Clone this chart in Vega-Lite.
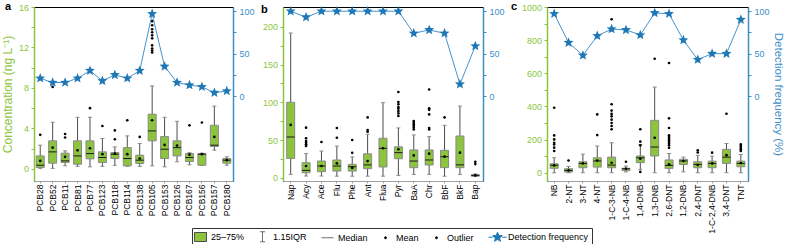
{
  "$schema": "https://vega.github.io/schema/vega-lite/v6.json",
  "padding": {"left": 0, "top": 0, "right": 0, "bottom": 0},
  "spacing": 5,
  "config": {
    "font": "Liberation Sans",
    "view": {"stroke": "black", "strokeWidth": 1},
    "axis": {"grid": false, "labelFont": "Liberation Sans", "titleFont": "Liberation Sans", "titleFontWeight": "normal"},
    "axisX": {"labelAngle": -90, "labelFontSize": 8.5, "tickSize": 2, "labelPadding": 1, "domainColor": "#a0a0a0", "tickColor": "#a0a0a0", "labelColor": "black"},
    "axisLeft": {"labelColor": "#8cc43e", "tickColor": "#8cc43e", "domainColor": "#8cc43e", "titleColor": "#8cc43e", "domainWidth": 1.5, "tickSize": 3, "labelPadding": 2.5, "labelFontSize": 9, "titleFontSize": 12, "titlePadding": 4},
    "axisRight": {"labelColor": "#3d8fca", "tickColor": "#3d8fca", "domainColor": "#3d8fca", "titleColor": "#3d8fca", "domainWidth": 1.5, "tickSize": 3, "labelPadding": 3, "labelFontSize": 9, "titleFontSize": 11.5, "titlePadding": 3}
  },
  "datasets": {
    "a": [
      {"c": "PCB28", "lo": 0.05, "q1": 0.13, "med": 0.36, "q3": 1.28, "hi": 2.34, "mean": 0.79, "df": 21},
      {"c": "PCB52", "lo": 0.05, "q1": 0.56, "med": 1.68, "q3": 2.77, "hi": 4.6, "mean": 2.1, "df": 16},
      {"c": "PCB11", "lo": 0.3, "q1": 0.63, "med": 0.79, "q3": 1.55, "hi": 1.78, "mean": 1.19, "df": 16},
      {"c": "PCB81", "lo": 0.25, "q1": 0.46, "med": 1.28, "q3": 2.77, "hi": 5.1, "mean": 1.83, "df": 21},
      {"c": "PCB77", "lo": 0.2, "q1": 0.99, "med": 1.51, "q3": 2.77, "hi": 5.1, "mean": 2.04, "df": 30},
      {"c": "PCB123", "lo": 0.25, "q1": 0.63, "med": 1.12, "q3": 1.68, "hi": 3.0, "mean": 1.45, "df": 18},
      {"c": "PCB118", "lo": 0.35, "q1": 1.02, "med": 1.45, "q3": 1.61, "hi": 2.17, "mean": 1.51, "df": 25},
      {"c": "PCB114", "lo": 0.25, "q1": 0.3, "med": 1.02, "q3": 2.1, "hi": 3.26, "mean": 1.45, "df": 21},
      {"c": "PCB138", "lo": 0.25, "q1": 0.53, "med": 0.86, "q3": 1.35, "hi": 2.5, "mean": 1.02, "df": 30},
      {"c": "PCB105", "lo": 0.3, "q1": 2.77, "med": 3.75, "q3": 5.4, "hi": 8.2, "mean": 4.81, "df": 97},
      {"c": "PCB153", "lo": 0.2, "q1": 1.02, "med": 1.94, "q3": 3.19, "hi": 5.1, "mean": 2.37, "df": 35},
      {"c": "PCB126", "lo": 0.7, "q1": 1.28, "med": 2.1, "q3": 2.77, "hi": 4.7, "mean": 2.3, "df": 16},
      {"c": "PCB167", "lo": 0.4, "q1": 0.73, "med": 1.12, "q3": 1.51, "hi": 1.6, "mean": 1.4, "df": 13},
      {"c": "PCB156", "lo": 0.35, "q1": 0.36, "med": 1.45, "q3": 1.51, "hi": 1.55, "mean": 1.45, "df": 11},
      {"c": "PCB157", "lo": 1.84, "q1": 2.21, "med": 2.34, "q3": 4.31, "hi": 6.2, "mean": 3.16, "df": 4},
      {"c": "PCB180", "lo": 0.36, "q1": 0.56, "med": 0.86, "q3": 1.02, "hi": 1.19, "mean": 0.86, "df": 6}
    ],
    "ao": [
      {"c": "PCB28", "v": 3.36}, {"c": "PCB52", "v": 8.1}, {"c": "PCB11", "v": 3.45}, {"c": "PCB11", "v": 3.1},
      {"c": "PCB77", "v": 6.0}, {"c": "PCB123", "v": 4.24}, {"c": "PCB118", "v": 3.8}, {"c": "PCB118", "v": 2.93},
      {"c": "PCB114", "v": 4.8}, {"c": "PCB138", "v": 3.16},
      {"c": "PCB105", "v": 14.6}, {"c": "PCB105", "v": 14.2}, {"c": "PCB105", "v": 13.8}, {"c": "PCB105", "v": 13.5},
      {"c": "PCB105", "v": 13.2}, {"c": "PCB105", "v": 12.9}, {"c": "PCB105", "v": 12.2}, {"c": "PCB105", "v": 11.9},
      {"c": "PCB105", "v": 11.7}, {"c": "PCB105", "v": 11.5},
      {"c": "PCB167", "v": 4.3}, {"c": "PCB156", "v": 4.58}
    ],
    "b": [
      {"c": "Nap", "lo": 4.4, "q1": 25.6, "med": 54, "q3": 100, "hi": 192, "mean": 70, "df": 100},
      {"c": "Acy", "lo": 2.2, "q1": 6.6, "med": 9.7, "q3": 19.9, "hi": 32, "mean": 15.5, "df": 93},
      {"c": "Ace", "lo": 2.2, "q1": 8, "med": 15.5, "q3": 22.1, "hi": 35.4, "mean": 15.5, "df": 100},
      {"c": "Flu", "lo": 2, "q1": 8.8, "med": 15.5, "q3": 23.5, "hi": 42, "mean": 19, "df": 100},
      {"c": "Phe", "lo": 2, "q1": 8.8, "med": 14.6, "q3": 17.7, "hi": 27.5, "mean": 13, "df": 100},
      {"c": "Ant", "lo": 2, "q1": 11.9, "med": 17, "q3": 31.7, "hi": 57.6, "mean": 22, "df": 100},
      {"c": "Flua", "lo": 2, "q1": 14.2, "med": 39, "q3": 52.3, "hi": 99.5, "mean": 39, "df": 100},
      {"c": "Pyr", "lo": 3, "q1": 25.2, "med": 33.2, "q3": 41, "hi": 66, "mean": 37.6, "df": 100},
      {"c": "BaA", "lo": 4.4, "q1": 13.3, "med": 22.1, "q3": 36.8, "hi": 56.7, "mean": 29.6, "df": 74},
      {"c": "Chr", "lo": 4.4, "q1": 16.8, "med": 23.5, "q3": 36.8, "hi": 54.4, "mean": 31.9, "df": 78},
      {"c": "BbF", "lo": 2, "q1": 13.3, "med": 27.9, "q3": 36.3, "hi": 69.5, "mean": 27.9, "df": 74},
      {"c": "BkF", "lo": 4.4, "q1": 13.3, "med": 17, "q3": 55.3, "hi": 95, "mean": 33.2, "df": 14},
      {"c": "Bap", "lo": 1.5, "q1": 2, "med": 3, "q3": 4, "hi": 5, "mean": 3, "df": 59}
    ],
    "bo": [
      {"c": "Acy", "v": 66.4}, {"c": "Acy", "v": 52.3}, {"c": "Acy", "v": 48.7}, {"c": "Acy", "v": 46.5}, {"c": "Acy", "v": 44.3}, {"c": "Acy", "v": 42.1},
      {"c": "Ace", "v": 47.4},
      {"c": "Flu", "v": 66}, {"c": "Flu", "v": 53},
      {"c": "Phe", "v": 50}, {"c": "Phe", "v": 33},
      {"c": "Ant", "v": 80}, {"c": "Ant", "v": 63.3}, {"c": "Ant", "v": 61},
      {"c": "Pyr", "v": 113.7}, {"c": "Pyr", "v": 100.5}, {"c": "Pyr", "v": 97.4}, {"c": "Pyr", "v": 93.8}, {"c": "Pyr", "v": 91.6}, {"c": "Pyr", "v": 88.5}, {"c": "Pyr", "v": 85.5}, {"c": "Pyr", "v": 82},
      {"c": "BaA", "v": 75.2}, {"c": "BaA", "v": 73}, {"c": "BaA", "v": 70.8}, {"c": "BaA", "v": 68.6}, {"c": "BaA", "v": 66.4}, {"c": "BaA", "v": 64},
      {"c": "Chr", "v": 117}, {"c": "Chr", "v": 92}, {"c": "Chr", "v": 90}, {"c": "Chr", "v": 84}, {"c": "Chr", "v": 66}, {"c": "Chr", "v": 64},
      {"c": "BbF", "v": 80},
      {"c": "Bap", "v": 21}, {"c": "Bap", "v": 18}
    ],
    "c": [
      {"c": "NB", "lo": 0, "q1": 26.5, "med": 44.5, "q3": 54, "hi": 90, "mean": 44, "df": 97},
      {"c": "2-NT", "lo": 0, "q1": 4, "med": 14, "q3": 24, "hi": 38, "mean": 14, "df": 63},
      {"c": "3-NT", "lo": 0, "q1": 30, "med": 56, "q3": 66, "hi": 112, "mean": 56, "df": 48},
      {"c": "4-NT", "lo": 0, "q1": 34, "med": 71, "q3": 90, "hi": 161, "mean": 74, "df": 71},
      {"c": "1-C-3-NB", "lo": 0, "q1": 30, "med": 46, "q3": 94, "hi": 181, "mean": 60, "df": 79},
      {"c": "1-C-4-NB", "lo": 5, "q1": 13, "med": 24, "q3": 27, "hi": 40, "mean": 24, "df": 78},
      {"c": "1,4-DNB", "lo": 20, "q1": 61, "med": 90, "q3": 101, "hi": 171, "mean": 84, "df": 72},
      {"c": "1,3-DNB", "lo": 0, "q1": 101, "med": 155, "q3": 316, "hi": 517, "mean": 211, "df": 98},
      {"c": "2,6-DNT", "lo": 0, "q1": 26, "med": 44, "q3": 77, "hi": 116, "mean": 50, "df": 97},
      {"c": "1,2-DNB", "lo": 5, "q1": 50, "med": 71, "q3": 81, "hi": 94, "mean": 71, "df": 66},
      {"c": "2,4-DNT", "lo": 0, "q1": 30, "med": 50, "q3": 66, "hi": 105, "mean": 47, "df": 43},
      {"c": "1-C-2,4-DNB", "lo": 0, "q1": 30, "med": 56, "q3": 70, "hi": 100, "mean": 56, "df": 50},
      {"c": "3,4-DNT", "lo": 0, "q1": 56, "med": 94, "q3": 141, "hi": 176, "mean": 106, "df": 50},
      {"c": "TNT", "lo": 0, "q1": 36, "med": 56, "q3": 70, "hi": 110, "mean": 58, "df": 90}
    ],
    "co": [
      {"c": "NB", "v": 392}, {"c": "NB", "v": 225}, {"c": "NB", "v": 201}, {"c": "NB", "v": 181}, {"c": "NB", "v": 171}, {"c": "NB", "v": 151}, {"c": "NB", "v": 131},
      {"c": "2-NT", "v": 74},
      {"c": "4-NT", "v": 352}, {"c": "4-NT", "v": 227},
      {"c": "1-C-3-NB", "v": 926}, {"c": "1-C-3-NB", "v": 413}, {"c": "1-C-3-NB", "v": 375}, {"c": "1-C-3-NB", "v": 355}, {"c": "1-C-3-NB", "v": 340}, {"c": "1-C-3-NB", "v": 320}, {"c": "1-C-3-NB", "v": 300}, {"c": "1-C-3-NB", "v": 282}, {"c": "1-C-3-NB", "v": 262},
      {"c": "1-C-4-NB", "v": 66},
      {"c": "1,4-DNB", "v": 262}, {"c": "1,4-DNB", "v": 188}, {"c": "1,4-DNB", "v": 165}, {"c": "1,4-DNB", "v": 5},
      {"c": "1,3-DNB", "v": 688},
      {"c": "2,6-DNT", "v": 662}, {"c": "2,6-DNT", "v": 328}, {"c": "2,6-DNT", "v": 270}, {"c": "2,6-DNT", "v": 225}, {"c": "2,6-DNT", "v": 215}, {"c": "2,6-DNT", "v": 205}, {"c": "2,6-DNT", "v": 195}, {"c": "2,6-DNT", "v": 185}, {"c": "2,6-DNT", "v": 175}, {"c": "2,6-DNT", "v": 165}, {"c": "2,6-DNT", "v": 150},
      {"c": "2,4-DNT", "v": 135}, {"c": "2,4-DNT", "v": 122},
      {"c": "1-C-2,4-DNB", "v": 121},
      {"c": "3,4-DNT", "v": 356},
      {"c": "TNT", "v": 171}, {"c": "TNT", "v": 161}, {"c": "TNT", "v": 151}, {"c": "TNT", "v": 141}, {"c": "TNT", "v": 131}
    ]
  },
  "hconcat": [
    {
      "width": 199, "height": 174,
      "title": {"text": "a", "anchor": "start", "frame": "group", "dx": -29, "offset": -18, "baseline": "alphabetic", "fontSize": 11, "fontWeight": "bold", "color": "black"},
      "encoding": {"x": {"field": "c", "type": "nominal", "title": null, "scale": {"type": "band", "domain": ["PCB28","PCB52","PCB11","PCB81","PCB77","PCB123","PCB118","PCB114","PCB138","PCB105","PCB153","PCB126","PCB167","PCB156","PCB157","PCB180"], "paddingInner": 0, "paddingOuter": 0}}},
      "layer": [
        {"layer": [
          {"data": {"name": "a"}, "mark": {"type": "rule", "color": "#4d4d4d", "strokeWidth": 1}, "encoding": {"y": {"field": "lo", "type": "quantitative", "scale": {"domain": [-1.2, 16], "nice": false, "zero": false}, "title": "Concentration (ng L⁻¹)", "axis": {"values": [0,2,4,6,8,10,12,14,16], "labelExpr": "datum.value % 4 === 0 ? datum.label : ''"}}, "y2": {"field": "hi"}}},
          {"data": {"name": "a"}, "mark": {"type": "tick", "size": 4, "thickness": 1, "color": "#8a8a8a", "opacity": 1}, "encoding": {"y": {"field": "lo", "type": "quantitative", "scale": {"domain": [-1.2, 16], "nice": false, "zero": false}, "title": "Concentration (ng L⁻¹)", "axis": {"values": [0,2,4,6,8,10,12,14,16], "labelExpr": "datum.value % 4 === 0 ? datum.label : ''"}}}},
          {"data": {"name": "a"}, "mark": {"type": "tick", "size": 4, "thickness": 1, "color": "#8a8a8a", "opacity": 1}, "encoding": {"y": {"field": "hi", "type": "quantitative", "scale": {"domain": [-1.2, 16], "nice": false, "zero": false}, "title": "Concentration (ng L⁻¹)", "axis": {"values": [0,2,4,6,8,10,12,14,16], "labelExpr": "datum.value % 4 === 0 ? datum.label : ''"}}}},
          {"data": {"name": "a"}, "mark": {"type": "bar", "size": 8, "fill": "#8cc43e", "stroke": "#8a8a8a", "strokeWidth": 1}, "encoding": {"y": {"field": "q1", "type": "quantitative", "scale": {"domain": [-1.2, 16], "nice": false, "zero": false}, "title": "Concentration (ng L⁻¹)", "axis": {"values": [0,2,4,6,8,10,12,14,16], "labelExpr": "datum.value % 4 === 0 ? datum.label : ''"}}, "y2": {"field": "q3"}}},
          {"data": {"name": "a"}, "mark": {"type": "tick", "size": 8, "thickness": 1, "color": "#1a1a1a", "opacity": 1}, "encoding": {"y": {"field": "med", "type": "quantitative", "scale": {"domain": [-1.2, 16], "nice": false, "zero": false}, "title": "Concentration (ng L⁻¹)", "axis": {"values": [0,2,4,6,8,10,12,14,16], "labelExpr": "datum.value % 4 === 0 ? datum.label : ''"}}}},
          {"data": {"name": "a"}, "mark": {"type": "point", "filled": true, "size": 7, "color": "black", "opacity": 1}, "encoding": {"y": {"field": "mean", "type": "quantitative", "scale": {"domain": [-1.2, 16], "nice": false, "zero": false}, "title": "Concentration (ng L⁻¹)", "axis": {"values": [0,2,4,6,8,10,12,14,16], "labelExpr": "datum.value % 4 === 0 ? datum.label : ''"}}}},
          {"data": {"name": "ao"}, "mark": {"type": "point", "filled": true, "size": 7, "color": "black", "opacity": 1}, "encoding": {"y": {"field": "v", "type": "quantitative", "scale": {"domain": [-1.2, 16], "nice": false, "zero": false}, "title": "Concentration (ng L⁻¹)", "axis": {"values": [0,2,4,6,8,10,12,14,16], "labelExpr": "datum.value % 4 === 0 ? datum.label : ''"}}}}
        ]},
        {"data": {"name": "a"}, "layer": [
          {"mark": {"type": "line", "color": "#4594d0", "strokeWidth": 1}, "encoding": {"order": {"value": null}, "y": {"field": "df", "type": "quantitative", "scale": {"domain": [-100, 105], "nice": false, "zero": false}, "title": null, "axis": {"orient": "right", "values": [0,25,50,75,100], "labelExpr": "datum.value % 50 === 0 ? datum.label : ''"}}}},
          {"mark": {"type": "point", "filled": true, "size": 110, "opacity": 1},
           "encoding": {
             "y": {"field": "df", "type": "quantitative", "scale": {"domain": [-100, 105], "nice": false, "zero": false}, "title": null, "axis": {"orient": "right", "values": [0,25,50,75,100], "labelExpr": "datum.value % 50 === 0 ? datum.label : ''"}},
             "color": {"datum": "Detection frequency", "type": "nominal",
               "scale": {"domain": ["25–75%", "1.15IQR", "Median", "Mean", "Outlier", "Detection frequency"], "range": ["#8cc43e", "transparent", "transparent", "black", "black", "#1f77b4"]},
               "legend": {"title": null, "orient": "none", "legendX": 158, "legendY": 221, "direction": "horizontal", "columns": 6, "symbolSize": 100, "labelFontSize": 9, "labelFont": "Liberation Sans", "labelColor": "black", "strokeColor": "#333333", "padding": 3, "columnPadding": 12, "labelOffset": 5, "symbolStrokeWidth": 1,
                 "symbolStrokeColor": {"expr": "datum.value === 'Detection frequency' ? '#1f77b4' : datum.value === '25–75%' ? '#4d4d4d' : (datum.value === 'Mean' || datum.value === 'Outlier') ? 'black' : '#707070'"},
                 "encode": {"symbols": {"stroke": {"value": {"expr": "datum.value === 'Detection frequency' ? '#1f77b4' : datum.value === '25–75%' ? '#4d4d4d' : (datum.value === 'Mean' || datum.value === 'Outlier') ? 'black' : '#707070'"}}, "strokeWidth": {"value": 1}}}}},
             "shape": {"datum": "Detection frequency", "type": "nominal",
               "scale": {"domain": ["25–75%", "1.15IQR", "Median", "Mean", "Outlier", "Detection frequency"], "range": ["M-1.2,-0.9H1.2V0.9H-1.2Z", "M-0.5,-1H0.5M0,-1V1M-0.5,1H0.5", "M-1.2,0H1.2", "M-0.2,0A0.2,0.2,0,1,1,0.2,0A0.2,0.2,0,1,1,-0.2,0Z", "M-0.2,0A0.2,0.2,0,1,1,0.2,0A0.2,0.2,0,1,1,-0.2,0Z", "M-1.8,0H-0.95M0.95,0H1.8M0,-1L0.259,-0.356L0.951,-0.309L0.418,0.136L0.588,0.809L0,0.44L-0.588,0.809L-0.418,0.136L-0.951,-0.309L-0.259,-0.356Z"]},
               "legend": {"title": null, "orient": "none", "legendX": 158, "legendY": 221, "direction": "horizontal", "columns": 6, "symbolSize": 100, "labelFontSize": 9, "labelFont": "Liberation Sans", "labelColor": "black", "strokeColor": "#333333", "padding": 3, "columnPadding": 12, "labelOffset": 5, "symbolStrokeWidth": 1,
                 "symbolStrokeColor": {"expr": "datum.value === 'Detection frequency' ? '#1f77b4' : datum.value === '25–75%' ? '#4d4d4d' : (datum.value === 'Mean' || datum.value === 'Outlier') ? 'black' : '#707070'"},
                 "encode": {"symbols": {"stroke": {"value": {"expr": "datum.value === 'Detection frequency' ? '#1f77b4' : datum.value === '25–75%' ? '#4d4d4d' : (datum.value === 'Mean' || datum.value === 'Outlier') ? 'black' : '#707070'"}}, "strokeWidth": {"value": 1}}}}}
           }}
        ]}
      ],
      "resolve": {"scale": {"y": "independent"}}
    },
    {
      "width": 200, "height": 174,
      "title": {"text": "b", "anchor": "start", "frame": "group", "dx": -22, "offset": -18, "baseline": "alphabetic", "fontSize": 11, "fontWeight": "bold", "color": "black"},
      "encoding": {"x": {"field": "c", "type": "nominal", "title": null, "scale": {"type": "band", "domain": ["Nap","Acy","Ace","Flu","Phe","Ant","Flua","Pyr","BaA","Chr","BbF","BkF","Bap"], "paddingInner": 0, "paddingOuter": 0}}},
      "layer": [
        {"layer": [
          {"data": {"name": "b"}, "mark": {"type": "rule", "color": "#4d4d4d", "strokeWidth": 1}, "encoding": {"y": {"field": "lo", "type": "quantitative", "scale": {"domain": [-4.4, 226.5], "nice": false, "zero": false}, "title": null, "axis": {"values": [0,25,50,75,100,125,150,175,200], "labelExpr": "datum.value % 50 === 0 ? datum.label : ''"}}, "y2": {"field": "hi"}}},
          {"data": {"name": "b"}, "mark": {"type": "tick", "size": 4, "thickness": 1, "color": "#8a8a8a", "opacity": 1}, "encoding": {"y": {"field": "lo", "type": "quantitative", "scale": {"domain": [-4.4, 226.5], "nice": false, "zero": false}, "title": null, "axis": {"values": [0,25,50,75,100,125,150,175,200], "labelExpr": "datum.value % 50 === 0 ? datum.label : ''"}}}},
          {"data": {"name": "b"}, "mark": {"type": "tick", "size": 4, "thickness": 1, "color": "#8a8a8a", "opacity": 1}, "encoding": {"y": {"field": "hi", "type": "quantitative", "scale": {"domain": [-4.4, 226.5], "nice": false, "zero": false}, "title": null, "axis": {"values": [0,25,50,75,100,125,150,175,200], "labelExpr": "datum.value % 50 === 0 ? datum.label : ''"}}}},
          {"data": {"name": "b"}, "mark": {"type": "bar", "size": 8, "fill": "#8cc43e", "stroke": "#8a8a8a", "strokeWidth": 1}, "encoding": {"y": {"field": "q1", "type": "quantitative", "scale": {"domain": [-4.4, 226.5], "nice": false, "zero": false}, "title": null, "axis": {"values": [0,25,50,75,100,125,150,175,200], "labelExpr": "datum.value % 50 === 0 ? datum.label : ''"}}, "y2": {"field": "q3"}}},
          {"data": {"name": "b"}, "mark": {"type": "tick", "size": 8, "thickness": 1, "color": "#1a1a1a", "opacity": 1}, "encoding": {"y": {"field": "med", "type": "quantitative", "scale": {"domain": [-4.4, 226.5], "nice": false, "zero": false}, "title": null, "axis": {"values": [0,25,50,75,100,125,150,175,200], "labelExpr": "datum.value % 50 === 0 ? datum.label : ''"}}}},
          {"data": {"name": "b"}, "mark": {"type": "point", "filled": true, "size": 7, "color": "black", "opacity": 1}, "encoding": {"y": {"field": "mean", "type": "quantitative", "scale": {"domain": [-4.4, 226.5], "nice": false, "zero": false}, "title": null, "axis": {"values": [0,25,50,75,100,125,150,175,200], "labelExpr": "datum.value % 50 === 0 ? datum.label : ''"}}}},
          {"data": {"name": "bo"}, "mark": {"type": "point", "filled": true, "size": 7, "color": "black", "opacity": 1}, "encoding": {"y": {"field": "v", "type": "quantitative", "scale": {"domain": [-4.4, 226.5], "nice": false, "zero": false}, "title": null, "axis": {"values": [0,25,50,75,100,125,150,175,200], "labelExpr": "datum.value % 50 === 0 ? datum.label : ''"}}}}
        ]},
        {"data": {"name": "b"}, "layer": [
          {"mark": {"type": "line", "color": "#4594d0", "strokeWidth": 1}, "encoding": {"order": {"value": null}, "y": {"field": "df", "type": "quantitative", "scale": {"domain": [-100, 105], "nice": false, "zero": false}, "title": null, "axis": {"orient": "right", "values": [0,25,50,75,100], "labelExpr": "datum.value % 50 === 0 ? datum.label : ''"}}}},
          {"mark": {"type": "point", "filled": true, "size": 110, "opacity": 1, "strokeWidth": 0, "color": "#1f77b4", "shape": "M0,-1L0.259,-0.356L0.951,-0.309L0.418,0.136L0.588,0.809L0,0.44L-0.588,0.809L-0.418,0.136L-0.951,-0.309L-0.259,-0.356Z"}, "encoding": {"y": {"field": "df", "type": "quantitative", "scale": {"domain": [-100, 105], "nice": false, "zero": false}, "title": null, "axis": {"orient": "right", "values": [0,25,50,75,100], "labelExpr": "datum.value % 50 === 0 ? datum.label : ''"}}}}
        ]}
      ],
      "resolve": {"scale": {"y": "independent"}}
    },
    {
      "width": 201, "height": 174,
      "title": {"text": "c", "anchor": "start", "frame": "group", "dx": -36, "offset": -18, "baseline": "alphabetic", "fontSize": 11, "fontWeight": "bold", "color": "black"},
      "encoding": {"x": {"field": "c", "type": "nominal", "title": null, "scale": {"type": "band", "domain": ["NB","2-NT","3-NT","4-NT","1-C-3-NB","1-C-4-NB","1,4-DNB","1,3-DNB","2,6-DNT","1,2-DNB","2,4-DNT","1-C-2,4-DNB","3,4-DNT","TNT"], "paddingInner": 0, "paddingOuter": 0}}},
      "layer": [
        {"layer": [
          {"data": {"name": "c"}, "mark": {"type": "rule", "color": "#4d4d4d", "strokeWidth": 1}, "encoding": {"y": {"field": "lo", "type": "quantitative", "scale": {"domain": [-50, 1000], "nice": false, "zero": false}, "title": null, "axis": {"values": [0,100,200,300,400,500,600,700,800,900,1000], "format": "d", "labelExpr": "datum.value % 200 === 0 ? datum.label : ''"}}, "y2": {"field": "hi"}}},
          {"data": {"name": "c"}, "mark": {"type": "tick", "size": 4, "thickness": 1, "color": "#8a8a8a", "opacity": 1}, "encoding": {"y": {"field": "lo", "type": "quantitative", "scale": {"domain": [-50, 1000], "nice": false, "zero": false}, "title": null, "axis": {"values": [0,100,200,300,400,500,600,700,800,900,1000], "format": "d", "labelExpr": "datum.value % 200 === 0 ? datum.label : ''"}}}},
          {"data": {"name": "c"}, "mark": {"type": "tick", "size": 4, "thickness": 1, "color": "#8a8a8a", "opacity": 1}, "encoding": {"y": {"field": "hi", "type": "quantitative", "scale": {"domain": [-50, 1000], "nice": false, "zero": false}, "title": null, "axis": {"values": [0,100,200,300,400,500,600,700,800,900,1000], "format": "d", "labelExpr": "datum.value % 200 === 0 ? datum.label : ''"}}}},
          {"data": {"name": "c"}, "mark": {"type": "bar", "size": 8, "fill": "#8cc43e", "stroke": "#8a8a8a", "strokeWidth": 1}, "encoding": {"y": {"field": "q1", "type": "quantitative", "scale": {"domain": [-50, 1000], "nice": false, "zero": false}, "title": null, "axis": {"values": [0,100,200,300,400,500,600,700,800,900,1000], "format": "d", "labelExpr": "datum.value % 200 === 0 ? datum.label : ''"}}, "y2": {"field": "q3"}}},
          {"data": {"name": "c"}, "mark": {"type": "tick", "size": 8, "thickness": 1, "color": "#1a1a1a", "opacity": 1}, "encoding": {"y": {"field": "med", "type": "quantitative", "scale": {"domain": [-50, 1000], "nice": false, "zero": false}, "title": null, "axis": {"values": [0,100,200,300,400,500,600,700,800,900,1000], "format": "d", "labelExpr": "datum.value % 200 === 0 ? datum.label : ''"}}}},
          {"data": {"name": "c"}, "mark": {"type": "point", "filled": true, "size": 7, "color": "black", "opacity": 1}, "encoding": {"y": {"field": "mean", "type": "quantitative", "scale": {"domain": [-50, 1000], "nice": false, "zero": false}, "title": null, "axis": {"values": [0,100,200,300,400,500,600,700,800,900,1000], "format": "d", "labelExpr": "datum.value % 200 === 0 ? datum.label : ''"}}}},
          {"data": {"name": "co"}, "mark": {"type": "point", "filled": true, "size": 7, "color": "black", "opacity": 1}, "encoding": {"y": {"field": "v", "type": "quantitative", "scale": {"domain": [-50, 1000], "nice": false, "zero": false}, "title": null, "axis": {"values": [0,100,200,300,400,500,600,700,800,900,1000], "format": "d", "labelExpr": "datum.value % 200 === 0 ? datum.label : ''"}}}}
        ]},
        {"data": {"name": "c"}, "layer": [
          {"mark": {"type": "line", "color": "#4594d0", "strokeWidth": 1}, "encoding": {"order": {"value": null}, "y": {"field": "df", "type": "quantitative", "scale": {"domain": [-100, 105], "nice": false, "zero": false}, "title": "Detection frequency (%)", "axis": {"orient": "right", "values": [0,25,50,75,100], "labelExpr": "datum.value % 50 === 0 ? datum.label : ''"}}}},
          {"mark": {"type": "point", "filled": true, "size": 110, "opacity": 1, "strokeWidth": 0, "color": "#1f77b4", "shape": "M0,-1L0.259,-0.356L0.951,-0.309L0.418,0.136L0.588,0.809L0,0.44L-0.588,0.809L-0.418,0.136L-0.951,-0.309L-0.259,-0.356Z"}, "encoding": {"y": {"field": "df", "type": "quantitative", "scale": {"domain": [-100, 105], "nice": false, "zero": false}, "title": "Detection frequency (%)", "axis": {"orient": "right", "values": [0,25,50,75,100], "labelExpr": "datum.value % 50 === 0 ? datum.label : ''"}}}}
        ]}
      ],
      "resolve": {"scale": {"y": "independent"}}
    }
  ]
}
